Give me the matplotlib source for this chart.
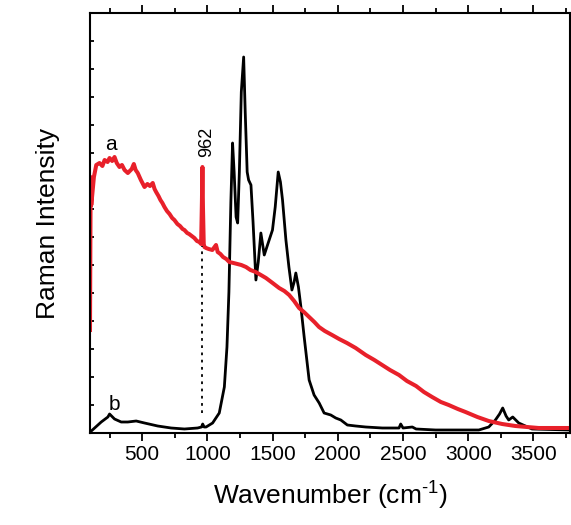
import matplotlib.pyplot as plt
import numpy as np
from matplotlib.ticker import MultipleLocator

plt.rcParams["font.family"] = ["Liberation Sans", "DejaVu Sans"]
plt.rcParams["mathtext.fontset"] = "custom"
plt.rcParams["mathtext.rm"] = "Liberation Sans"

# spectrum a (red)
wn_a = [100, 105, 110, 130, 148, 173, 195, 212, 235, 250, 270, 288, 305, 326,
        345, 365, 390, 420, 436, 450, 466, 490, 518, 540, 560, 581, 595, 607,
        625, 640, 655, 671, 690, 710, 730, 747, 770, 790, 810, 824, 845, 860,
        880, 900, 920, 938, 952, 958, 962, 966, 972, 977, 990, 1010, 1038,
        1066, 1079, 1100, 1120, 1145, 1168, 1200, 1230, 1260, 1296, 1330,
        1370, 1410, 1449, 1500, 1550, 1590, 1627, 1665, 1703, 1740, 1780,
        1820, 1856, 1900, 1956, 2010, 2070, 2137, 2214, 2280, 2340, 2400,
        2469, 2530, 2600, 2660, 2723, 2790, 2850, 2920, 2979, 3070, 3157,
        3260, 3361, 3450, 3540, 3650, 3780]
int_a = [102, 255, 227, 255, 267, 269, 266, 272, 270, 274, 271, 275, 269, 265,
         267, 262, 259, 263, 268, 262, 259, 252, 245, 248, 246, 249, 243, 240,
         236, 232, 229, 225, 221, 218, 214, 212, 208, 206, 203, 202, 199, 198,
         196, 194, 191, 190, 188, 230, 265, 225, 188, 185, 184, 183, 182,
         187, 180, 178, 175, 173, 170, 169, 168, 167, 165, 162,
         160, 157, 154, 149, 144, 141, 137, 131, 124, 120, 115,
         110, 105, 101, 97, 93, 89, 84, 77, 72, 67, 62,
         57, 51, 46, 40, 35, 30, 27, 23, 20, 15, 11,
         8, 6, 5, 4, 4, 4]

# spectrum b (black)
wn_b = [100, 110, 186, 237, 250, 288, 339, 390, 454, 518, 619, 722, 824, 925,
        955, 964, 975, 990, 1040, 1091, 1130, 1150, 1165, 1180, 1193, 1205,
        1220, 1232, 1245, 1260, 1278, 1290, 1305, 1316, 1334, 1350, 1372, 1390,
        1410, 1436, 1461, 1499, 1520, 1543, 1560, 1576, 1602, 1625, 1648, 1665,
        1678, 1698, 1717, 1742, 1780, 1818, 1857, 1895, 1946, 1984, 2023, 2073,
        2137, 2214, 2341, 2469, 2482, 2500, 2571, 2600, 2749, 3081, 3157, 3208,
        3240, 3264, 3290, 3310, 3341, 3387, 3489, 3780]
int_b = [0, 1, 10, 15, 18, 13, 10, 10, 11, 9, 6, 4, 3, 4,
         5, 8, 5, 5, 9, 19, 45, 85, 140, 230, 289, 260,
         215, 209, 260, 340, 375, 320, 260, 252, 247, 210, 152, 170,
         199, 177, 187, 202, 225, 260, 250, 232, 192, 165, 142, 150,
         159, 145, 125, 95, 52, 37, 29, 19, 17, 14, 12, 7,
         6, 5, 4, 4, 8, 4, 5, 3, 2, 2, 5, 12,
         18, 24, 16, 12, 15, 9, 3, 2]

red = "#e8202a"

fig = plt.figure(figsize=(5.71, 5.25), dpi=100)
ax = fig.add_axes([90 / 571, 92 / 525, 480 / 571, 420 / 525])

ax.plot(wn_b, int_b, color="black", lw=2.0)
ax.plot(wn_a, int_a, color=red, lw=2.9)
ax.plot([962, 962], [19, 186], color="black", lw=1.3, ls=(0, (1.5, 2.5)))

ax.text(992, 290, "962", rotation=90, ha="center", va="center", fontsize=13)
ax.text(258, 287, "a", ha="center", va="center", fontsize=15)
ax.text(288, 28, "b", ha="center", va="center", fontsize=15)

ax.set_xlim(100, 3780)
ax.set_ylim(-1, 419)
ax.xaxis.set_major_locator(MultipleLocator(500))
ax.xaxis.set_minor_locator(MultipleLocator(250))
ax.set_yticks(np.arange(27, 419, 28))
ax.set_yticklabels([])

ax.tick_params(axis="x", which="major", direction="out", length=6, width=1.3,
               labelsize=15, pad=3, top=True)
ax.tick_params(axis="x", which="minor", direction="out", length=3.5, width=1.3,
               top=True)
ax.tick_params(axis="y", direction="in", length=3, width=1.3)
for sp in ax.spines.values():
    sp.set_linewidth(1.5)

ax.set_xlabel(r"Wavenumber (cm$^{\text{-1}}$)", fontsize=19, labelpad=10)
ax.set_ylabel("Raman Intensity", fontsize=19, labelpad=18)

fig.savefig("out.png", dpi=100)
